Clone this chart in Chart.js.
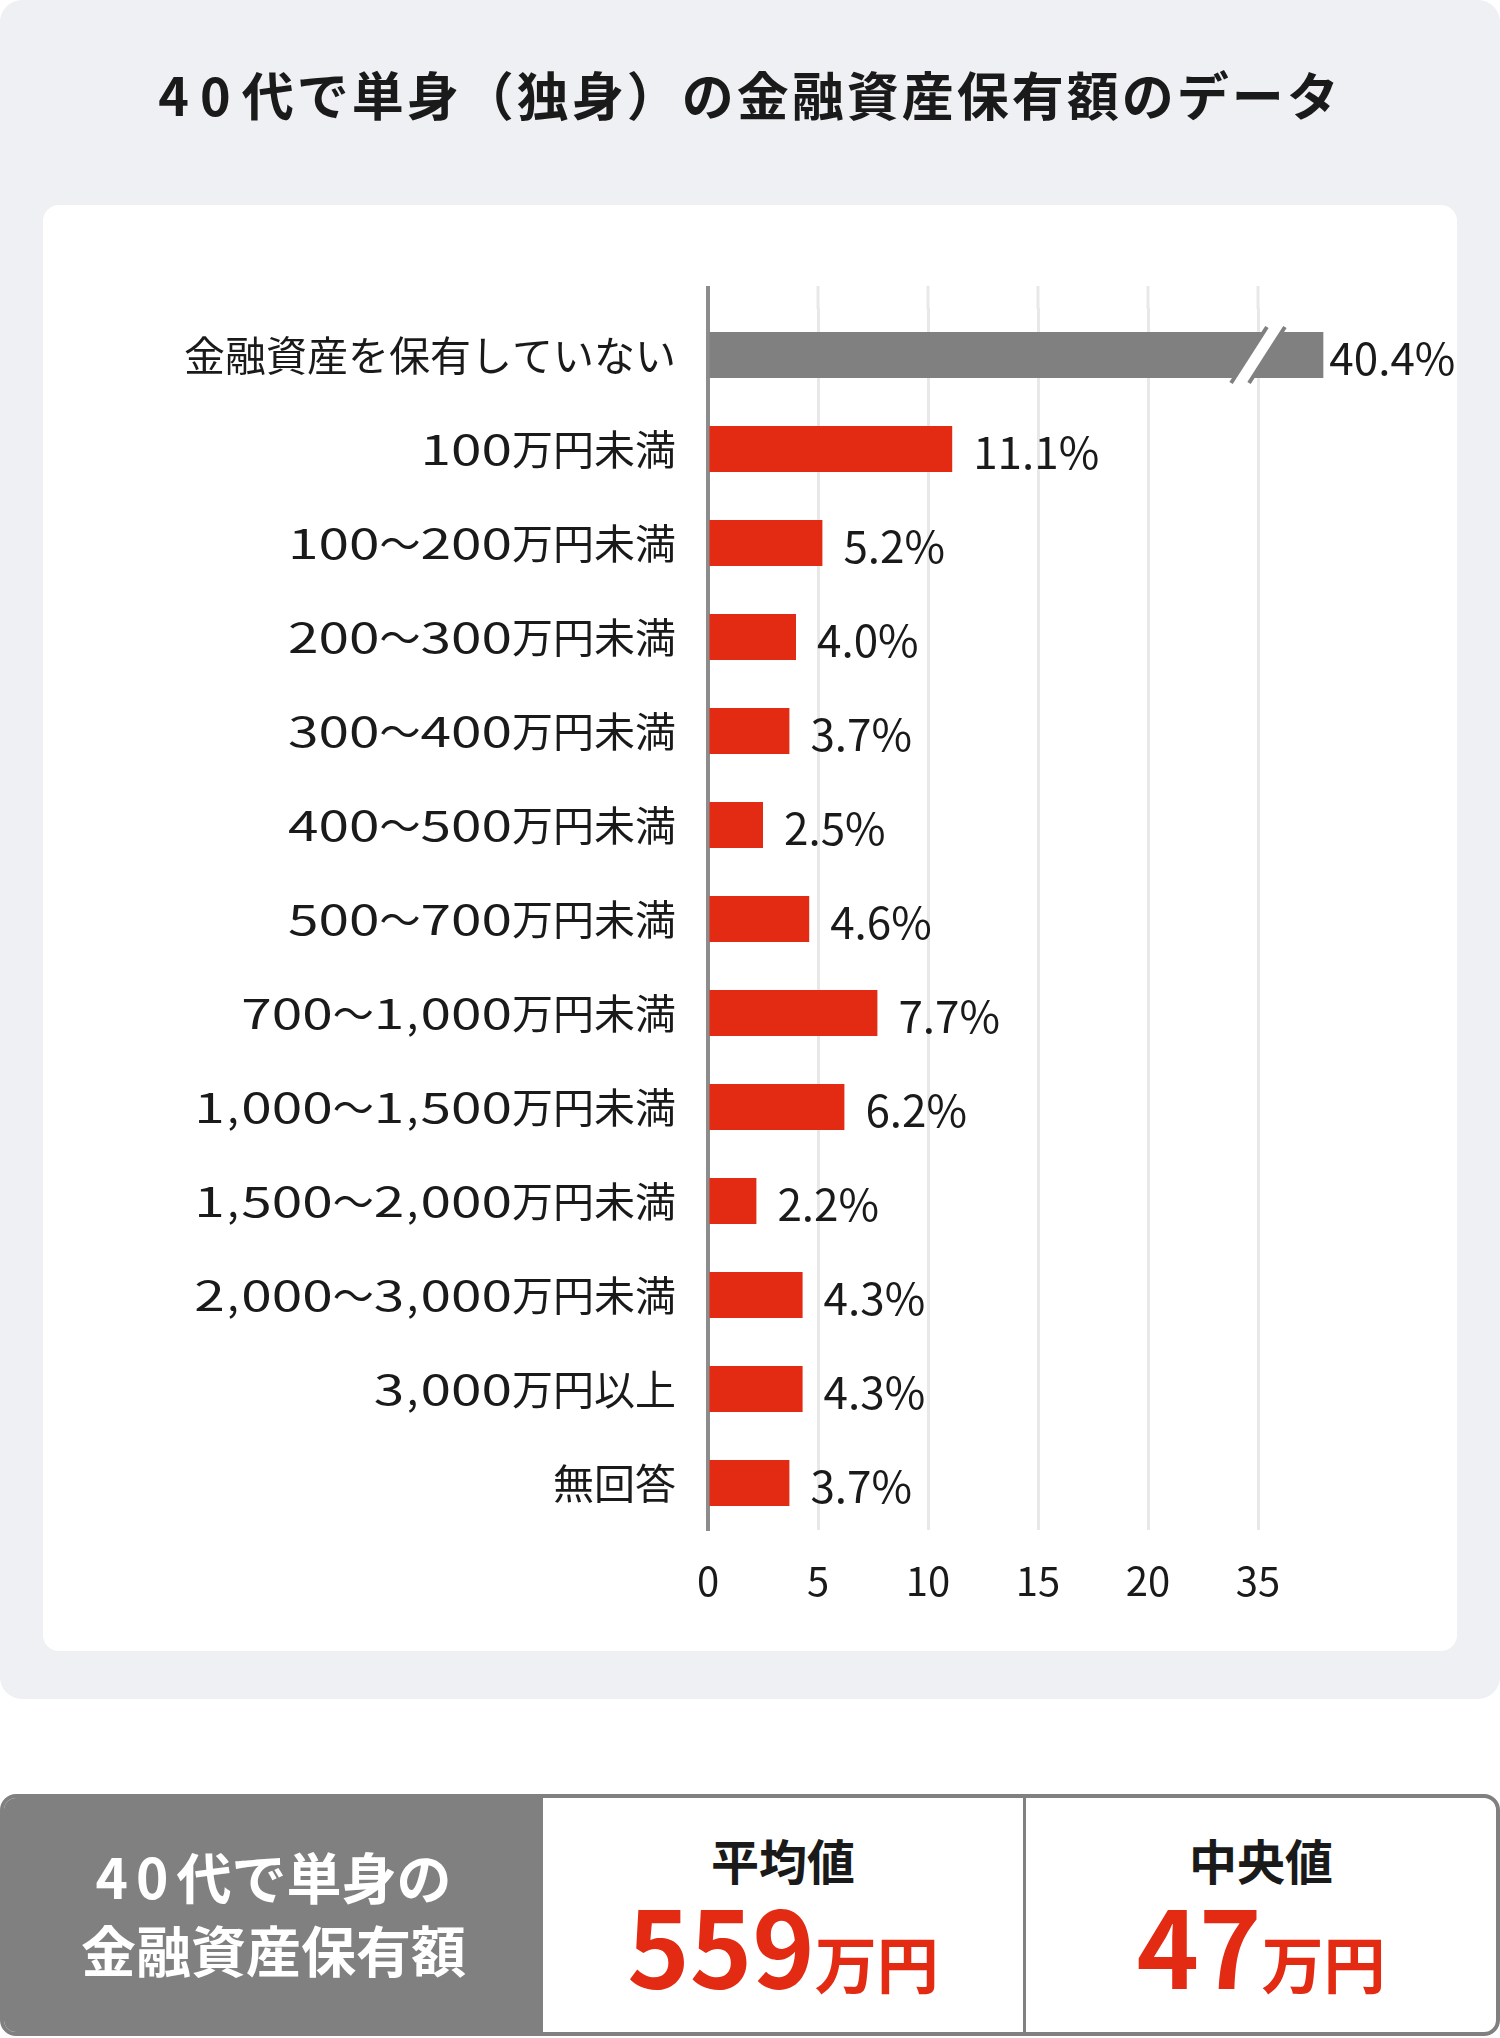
<!DOCTYPE html>
<html lang="ja">
<head>
<meta charset="utf-8">
<title>40代で単身（独身）の金融資産保有額のデータ</title>
<script src="https://cdn.jsdelivr.net/npm/chart.js@4.4.1/dist/chart.umd.min.js"></script>
<style>
  html, body { margin: 0; padding: 0; background: #fff; }
  body { width: 1500px; height: 2038px; position: relative; overflow: hidden;
         font-family: "Noto Sans CJK JP", sans-serif; color: #1a1a1a; }
  .panel { position: absolute; left: 0; top: 0; width: 1500px; height: 1699px;
           background: #eef0f3; border-radius: 22px; }
  .title { position: absolute; left: 0; top: 68px; width: 1500px; text-align: center;
           font-size: 52px; line-height: 52px; font-weight: 700; letter-spacing: 3px; }
  .title .num { letter-spacing: 11px; }
  .card { position: absolute; left: 43px; top: 205px; width: 1414px; height: 1446px;
          background: #fff; border-radius: 16px; }
  .card canvas { position: absolute; left: 0; top: 0; }
  .summary { position: absolute; left: 0; top: 1794px; width: 1500px; height: 242px;
             box-sizing: border-box; border: 4px solid #808080; border-radius: 16px;
             background: #fff; overflow: hidden; }
  .head { position: absolute; left: 0; top: 0; width: 539px; height: 100%; box-sizing: border-box;
          padding-top: 41px; background: #808080; color: #fff; text-align: center;
          font-size: 55px; line-height: 73px; font-weight: 700; }
  .head .num { letter-spacing: 8px; }
  .divider { position: absolute; left: 1019px; top: 0; width: 3px; height: 100%; background: #808080; }
  .cell { position: absolute; top: 0; height: 100%; text-align: center; }
  .cell .label { position: absolute; left: 0; right: 0; top: 31px; font-size: 48px;
                 line-height: 60px; font-weight: 700; color: #1a1a1a; }
  .cell .value { position: absolute; left: 0; right: 0; top: 92px; font-size: 106px;
                 line-height: 106px; font-weight: 700; color: #e22b12; }
  .cell .value span { font-size: 62px; }
</style>
</head>
<body>
<div class="panel">
  <div class="title"><span class="num">40</span>代で単身（独身）の金融資産保有額のデータ</div>
  <div class="card"><canvas id="chart" width="1414" height="1446"></canvas></div>
</div>
<div class="summary" id="summary">
  <div class="head"><span class="num">40</span>代で単身の<br>金融資産保有額</div>
  <div class="divider"></div>
</div>

<script>
// data
const categories = [
  '金融資産を保有していない',
  '100万円未満',
  '100～200万円未満',
  '200～300万円未満',
  '300～400万円未満',
  '400～500万円未満',
  '500～700万円未満',
  '700～1,000万円未満',
  '1,000～1,500万円未満',
  '1,500～2,000万円未満',
  '2,000～3,000万円未満',
  '3,000万円以上',
  '無回答'
];
const values = [40.4, 11.1, 5.2, 4.0, 3.7, 2.5, 4.6, 7.7, 6.2, 2.2, 4.3, 4.3, 3.7];
const xTickLabels = ['0', '5', '10', '15', '20', '35'];

const summaryLabels = ['平均値', '中央値'];
const summaryValues = [559, 47];
const summaryUnit = '万円';

// broken axis: 20..35 squeezed into 5 units, after 35 drawn compressed
const BREAK_LOW = 20;
const BREAK_HIGH = 35;
const BREAK_POS = 25;
const AFTER_BREAK = 0.55;

function toAxis(v) {
  if (v <= BREAK_LOW) return v;
  if (v <= BREAK_HIGH) return BREAK_LOW + (v - BREAK_LOW) * (BREAK_POS - BREAK_LOW) / (BREAK_HIGH - BREAK_LOW);
  return BREAK_POS + (v - BREAK_HIGH) * AFTER_BREAK;
}

const RED = '#e22b12';
const GRAY = '#808080';
const GRID_COLOR = '#e8e8e8';
const AXIS_COLOR = '#8c8c8c';
const TEXT_COLOR = '#1a1a1a';
const DIGIT_STRETCH = 1.34;
const COMMA_EXTRA = 5;

Chart.defaults.font.family = '"Noto Sans CJK JP", sans-serif';

// grid lines start a little above the first bar
const gridTop = {
  id: 'gridTop',
  beforeDatasetsDraw(chart) {
    const { ctx, chartArea, scales: { x } } = chart;
    ctx.save();
    x.ticks.forEach((t, i) => {
      const px = x.getPixelForValue(t.value);
      ctx.strokeStyle = i === 0 ? AXIS_COLOR : GRID_COLOR;
      ctx.lineWidth = i === 0 ? 4 : 3;
      ctx.beginPath();
      ctx.moveTo(px, chartArea.top - 22);
      ctx.lineTo(px, chartArea.top + 1);
      ctx.stroke();
    });
    ctx.restore();
  }
};

// "//" mark on bars that run past the break
const breakMark = {
  id: 'breakMark',
  afterDatasetsDraw(chart) {
    const { ctx, scales: { x } } = chart;
    const cx = x.getPixelForValue(toAxis(BREAK_HIGH));
    chart.getDatasetMeta(0).data.forEach((bar, i) => {
      if (values[i] <= BREAK_HIGH) return;
      const half = bar.height / 2 + 5;
      const dx = half * 0.64;
      const gap = 9;
      ctx.save();
      ctx.beginPath();
      ctx.rect(cx - 40, bar.y - bar.height / 2, 80, bar.height);
      ctx.clip();
      ctx.fillStyle = '#fff';
      ctx.beginPath();
      ctx.moveTo(cx - gap - dx, bar.y + half);
      ctx.lineTo(cx - gap + dx, bar.y - half);
      ctx.lineTo(cx + gap + dx, bar.y - half);
      ctx.lineTo(cx + gap - dx, bar.y + half);
      ctx.closePath();
      ctx.fill();
      ctx.restore();

      ctx.save();
      ctx.strokeStyle = GRAY;
      ctx.lineWidth = 4;
      [-gap, gap].forEach(off => {
        ctx.beginPath();
        ctx.moveTo(cx + off - dx, bar.y + half);
        ctx.lineTo(cx + off + dx, bar.y - half);
        ctx.stroke();
      });
      ctx.restore();
    });
  }
};

const valueLabels = {
  id: 'valueLabels',
  afterDatasetsDraw(chart) {
    const { ctx } = chart;
    ctx.save();
    ctx.font = '44px "Noto Sans CJK JP"';
    ctx.fillStyle = TEXT_COLOR;
    ctx.textBaseline = 'middle';
    chart.getDatasetMeta(0).data.forEach((bar, i) => {
      const gap = values[i] > BREAK_HIGH ? 6 : 21;
      ctx.fillText(values[i].toFixed(1) + '%', bar.x + gap, bar.y + 3);
    });
    ctx.restore();
  }
};

// category names, right aligned against the axis; digits drawn a bit wider
const categoryLabels = {
  id: 'categoryLabels',
  afterDraw(chart) {
    const { ctx, scales: { y } } = chart;
    ctx.save();
    ctx.font = '41px "Noto Sans CJK JP"';
    ctx.fillStyle = TEXT_COLOR;
    ctx.textBaseline = 'middle';
    ctx.textAlign = 'left';
    categories.forEach((label, i) => {
      const py = y.getPixelForValue(i);
      const chars = Array.from(label);
      const stretch = chars.map(ch => /[0-9]/.test(ch) ? DIGIT_STRETCH : 1);
      const widths = chars.map((ch, k) =>
        ctx.measureText(ch).width * stretch[k] + (ch === ',' ? COMMA_EXTRA : 0));
      let px = y.right - 32 - widths.reduce((a, b) => a + b, 0);
      chars.forEach((ch, k) => {
        ctx.save();
        ctx.translate(px + (ch === ',' ? COMMA_EXTRA / 2 : 0), py);
        ctx.scale(stretch[k], 1);
        ctx.fillText(ch, 0, 0);
        ctx.restore();
        px += widths[k];
      });
    });
    ctx.restore();
  }
};

const ctx = document.getElementById('chart').getContext('2d');
const chart = new Chart(ctx, {
  type: 'bar',
  data: {
    labels: categories,
    datasets: [{
      data: values.map(toAxis),
      backgroundColor: values.map(v => v > BREAK_HIGH ? GRAY : RED),
      barPercentage: 0.49,
      categoryPercentage: 1
    }]
  },
  options: {
    indexAxis: 'y',
    responsive: false,
    animation: false,
    layout: { padding: { top: 103, right: 89, left: 0, bottom: 0 } },
    plugins: {
      legend: { display: false },
      tooltip: { enabled: false }
    },
    scales: {
      x: {
        type: 'linear',
        min: 0,
        max: 30,
        afterBuildTicks: scale => {
          scale.ticks = xTickLabels.map(t => ({ value: toAxis(Number(t)) }));
        },
        afterFit: scale => { scale.height = 121; },
        ticks: {
          callback: (value, index) => xTickLabels[index],
          font: { size: 40 },
          color: TEXT_COLOR,
          padding: 27,
          maxRotation: 0,
          autoSkip: false
        },
        grid: { color: GRID_COLOR, lineWidth: 3, drawTicks: false },
        border: { display: false }
      },
      y: {
        afterFit: scale => { scale.width = 665; },
        ticks: { display: false },
        grid: { display: true, drawOnChartArea: false, drawTicks: false },
        border: { display: true, color: AXIS_COLOR, width: 4 }
      }
    }
  },
  plugins: [gridTop, breakMark, valueLabels, categoryLabels]
});

// summary table
const summary = document.getElementById('summary');
const cellBoxes = [{ left: 539, width: 480 }, { left: 1022, width: 470 }];
summaryLabels.forEach((label, i) => {
  const cell = document.createElement('div');
  cell.className = 'cell';
  cell.style.left = cellBoxes[i].left + 'px';
  cell.style.width = cellBoxes[i].width + 'px';
  cell.innerHTML = '<div class="label">' + label + '</div>' +
    '<div class="value">' + summaryValues[i] + '<span>' + summaryUnit + '</span></div>';
  summary.appendChild(cell);
});
</script>
</body>
</html>
